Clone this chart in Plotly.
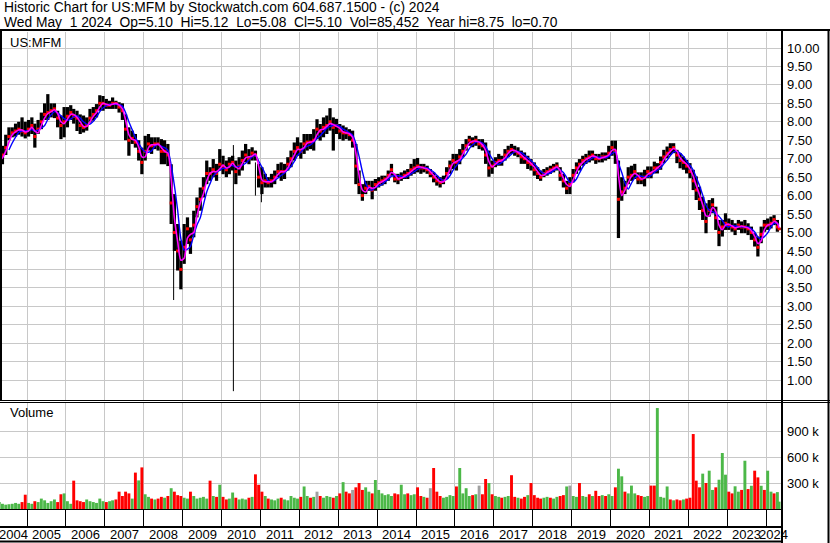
import plotly.graph_objects as go
import pandas as pd

# ---------------- data (monthly, Apr 2004 .. May 2024) ----------------
month_start = "2004-04-01"
n_months = 242

high = [
    7.20, 7.35, 7.65, 7.85, 7.85, 7.95, 8.00, 8.12, 8.00,
    8.05, 8.12, 7.95, 8.05, 8.25, 8.50, 8.75, 8.50, 8.50, 8.30, 8.17, 8.40,
    8.40, 8.45, 8.35, 8.30, 8.20, 8.17, 8.12, 8.35, 8.40, 8.48, 8.72, 8.70,
    8.62, 8.57, 8.66, 8.57, 8.53, 8.50, 8.20, 7.85, 7.76, 7.67, 7.50, 7.30,
    7.62, 7.67, 7.58, 7.58, 7.58, 7.53, 7.50, 7.40, 6.85, 6.04, 5.23, 4.78,
    5.23, 5.41, 5.14, 5.59, 5.95, 6.22, 6.50, 6.95, 6.77, 6.99, 6.86, 7.26,
    7.08, 6.95, 7.04, 7.08, 6.95, 7.04, 7.22, 7.40, 7.26, 7.31, 7.22, 6.86,
    6.77, 6.59, 6.50, 6.59, 6.68, 6.86, 6.90, 6.86, 7.04, 7.22, 7.44, 7.58,
    7.44, 7.67, 7.67, 7.67, 7.80, 8.07, 7.94, 8.12, 8.17, 8.37, 8.12, 8.08,
    7.94, 7.90, 7.85, 7.80, 7.76, 7.40, 6.68, 6.31, 6.40, 6.40, 6.40, 6.45,
    6.50, 6.54, 6.54, 6.68, 6.86, 6.59, 6.59, 6.63, 6.68, 6.72, 6.86, 6.99,
    7.02, 6.86, 6.86, 6.81, 6.72, 6.63, 6.54, 6.50, 6.54, 6.77, 6.95, 7.13,
    7.13, 7.26, 7.40, 7.53, 7.62, 7.58, 7.62, 7.53, 7.53, 7.44, 7.22, 6.95,
    7.04, 7.13, 7.08, 7.26, 7.35, 7.40, 7.35, 7.31, 7.22, 7.17, 7.08, 6.99,
    6.90, 6.77, 6.68, 6.72, 6.77, 6.81, 6.86, 6.90, 6.77, 6.59, 6.40, 6.50,
    6.72, 6.90, 6.99, 7.08, 7.13, 7.22, 7.22, 7.13, 7.13, 7.17, 7.17, 7.35,
    7.49, 7.49, 6.95, 6.50, 6.40, 6.77, 6.81, 6.86, 6.63, 6.63, 6.70, 6.79,
    6.79, 6.92, 6.88, 7.06, 7.24, 7.33, 7.42, 7.42, 7.24, 7.15, 7.06, 6.97,
    6.88, 6.70, 6.52, 6.24, 5.97, 5.79, 5.88, 5.93, 5.70, 5.34, 5.34, 5.52,
    5.38, 5.34, 5.25, 5.34, 5.30, 5.34, 5.25, 5.16, 4.98, 4.89, 5.16, 5.34,
    5.38, 5.43, 5.47, 5.34, 5.12,
]

low = [
    6.75, 6.85, 7.10, 7.50, 7.58, 7.60, 7.65, 7.60, 7.55,
    7.60, 7.67, 7.30, 7.67, 7.80, 8.05, 8.05, 8.12, 8.10, 7.85, 7.53, 7.58,
    7.85, 8.05, 7.95, 7.75, 7.67, 7.71, 7.76, 7.98, 8.03, 8.12, 8.30, 8.30,
    8.35, 8.35, 8.35, 8.35, 8.25, 8.05, 7.50, 7.08, 7.40, 7.30, 6.95, 6.58,
    6.95, 7.22, 7.13, 7.26, 7.22, 6.85, 6.85, 6.80, 5.23, 4.50, 3.97, 3.46,
    4.15, 4.69, 4.42, 4.87, 5.41, 5.59, 5.95, 6.31, 6.40, 6.50, 6.40, 6.68,
    6.58, 6.50, 6.58, 6.68, 6.31, 6.54, 6.68, 6.90, 6.85, 6.95, 6.95, 6.22,
    6.04, 6.22, 6.22, 6.22, 6.31, 6.50, 6.40, 6.45, 6.68, 6.77, 6.95, 7.08,
    7.00, 7.13, 7.22, 7.26, 7.22, 7.53, 7.49, 7.58, 7.67, 7.76, 7.22, 7.67,
    7.53, 7.49, 7.53, 7.49, 7.30, 6.31, 6.04, 5.86, 6.04, 6.13, 5.90, 6.13,
    6.22, 6.27, 6.31, 6.40, 6.54, 6.36, 6.31, 6.40, 6.45, 6.45, 6.54, 6.59,
    6.63, 6.59, 6.63, 6.59, 6.50, 6.36, 6.27, 6.22, 6.31, 6.45, 6.59, 6.72,
    6.68, 6.85, 7.04, 7.22, 7.35, 7.31, 7.35, 7.26, 7.22, 6.86, 6.51, 6.59,
    6.77, 6.81, 6.81, 6.95, 7.04, 7.13, 7.08, 7.04, 6.86, 6.86, 6.72, 6.68,
    6.54, 6.45, 6.40, 6.50, 6.54, 6.59, 6.63, 6.68, 6.40, 6.22, 6.04, 6.04,
    6.36, 6.59, 6.68, 6.81, 6.86, 6.90, 6.95, 6.86, 6.90, 6.90, 6.95, 6.99,
    7.08, 6.86, 4.85, 5.86, 6.04, 6.31, 6.40, 6.45, 6.31, 6.31, 6.25, 6.47,
    6.47, 6.60, 6.60, 6.70, 6.88, 7.01, 7.10, 7.15, 6.88, 6.74, 6.70, 6.60,
    6.47, 6.15, 5.88, 5.61, 5.34, 4.98, 5.43, 5.52, 5.07, 4.63, 4.89, 5.07,
    5.07, 5.02, 4.93, 5.07, 4.98, 4.98, 4.93, 4.80, 4.62, 4.35, 4.71, 5.02,
    5.07, 5.11, 5.20, 5.02, 5.08,
]

close = [
    6.95, 7.10, 7.30, 7.60, 7.70, 7.75, 7.80, 7.75, 7.70,
    7.80, 7.90, 7.60, 7.80, 8.00, 8.20, 8.25, 8.30, 8.35, 8.10, 7.90, 8.00,
    8.15, 8.25, 8.15, 8.10, 7.90, 7.85, 7.90, 8.10, 8.20, 8.30, 8.50, 8.50,
    8.45, 8.45, 8.50, 8.50, 8.40, 8.30, 7.80, 7.50, 7.55, 7.45, 7.20, 6.90,
    7.20, 7.40, 7.35, 7.40, 7.40, 7.20, 7.20, 7.10, 5.80, 5.00, 4.50, 4.00,
    4.60, 5.10, 4.80, 5.20, 5.70, 5.90, 6.20, 6.60, 6.60, 6.70, 6.60, 6.85,
    6.80, 6.70, 6.85, 6.90, 6.65, 6.80, 6.95, 7.10, 7.00, 7.15, 7.10, 6.50,
    6.35, 6.40, 6.35, 6.40, 6.50, 6.65, 6.65, 6.65, 6.85, 7.00, 7.20, 7.30,
    7.20, 7.40, 7.45, 7.45, 7.50, 7.80, 7.75, 7.85, 7.90, 8.00, 7.85, 7.90,
    7.75, 7.70, 7.70, 7.65, 7.50, 6.80, 6.30, 6.00, 6.20, 6.25, 6.15, 6.30,
    6.35, 6.40, 6.45, 6.55, 6.70, 6.45, 6.45, 6.50, 6.55, 6.60, 6.70, 6.75,
    6.80, 6.75, 6.75, 6.70, 6.60, 6.50, 6.40, 6.35, 6.40, 6.60, 6.80, 6.95,
    6.90, 7.05, 7.20, 7.35, 7.50, 7.45, 7.50, 7.40, 7.35, 7.10, 6.75, 6.80,
    6.90, 6.95, 6.95, 7.10, 7.20, 7.25, 7.20, 7.15, 7.05, 7.00, 6.90, 6.85,
    6.70, 6.60, 6.50, 6.60, 6.65, 6.70, 6.75, 6.80, 6.55, 6.40, 6.20, 6.30,
    6.55, 6.75, 6.85, 6.95, 7.00, 7.05, 7.10, 7.00, 7.00, 7.05, 7.05, 7.15,
    7.30, 7.20, 5.90, 6.10, 6.20, 6.50, 6.55, 6.65, 6.45, 6.45, 6.50, 6.65,
    6.60, 6.75, 6.75, 6.90, 7.05, 7.15, 7.25, 7.30, 7.10, 6.95, 6.90, 6.80,
    6.65, 6.40, 6.15, 5.90, 5.60, 5.30, 5.60, 5.75, 5.40, 5.00, 5.15, 5.25,
    5.20, 5.15, 5.10, 5.20, 5.15, 5.15, 5.10, 5.00, 4.80, 4.60, 4.95, 5.20,
    5.20, 5.25, 5.35, 5.15, 5.10,
]

# single-day outlier prints drawn as thin lines
spike_dates = ["2008-10-08", "2010-04-22", "2010-11-15", "2011-01-10"]
spike_low = [3.17, 0.70, 6.00, 5.82]
spike_high = [6.00, 7.37, 6.90, 6.40]

# monthly volume (thousands of shares)
volume_k = [
    80, 60, 50, 55, 60, 70, 60, 80, 165,
    70, 60, 90, 80, 120, 100, 70, 90, 110, 80, 170, 180,
    90, 60, 327, 100, 90, 80, 110, 90, 80, 70, 120, 90,
    80, 90, 100, 110, 200, 150, 200, 180, 120, 420, 330, 480,
    170, 140, 120, 110, 120, 140, 130, 150, 240, 200, 160, 150,
    130, 120, 200, 150, 120, 130, 140, 120, 327, 150, 140, 280,
    140, 110, 120, 190, 130, 110, 120, 110, 130, 140, 400, 280,
    200, 150, 120, 110, 100, 120, 130, 110, 100, 150, 130, 120,
    140, 260, 150, 130, 140, 200, 150, 130, 150, 140, 130, 150,
    180, 310, 200, 180, 220, 250, 300, 220, 250, 200, 180, 335,
    220, 180, 160, 170, 150, 180, 170, 280, 170, 180, 160, 170,
    250, 150, 140, 130, 240, 473, 200, 150, 130, 140, 160, 150,
    260, 473, 180, 240, 150, 160, 170, 270, 170, 346, 300, 170,
    150, 140, 130, 140, 150, 390, 140, 130, 120, 140, 160, 300,
    160, 130, 120, 130, 140, 130, 120, 140, 150, 160, 260, 270,
    150, 140, 300, 150, 140, 170, 150, 210, 150, 160, 150, 170,
    150, 250, 465, 377, 200, 180, 270, 180, 160, 150, 140, 150,
    270, 270, 1165, 140, 130, 260, 110, 100, 110, 100, 110, 120,
    130, 865, 327, 250, 408, 300, 442, 220, 250, 338, 646, 396,
    200, 180, 262, 200, 220, 557, 230, 268, 442, 365, 268, 220,
    442, 200, 180, 195, 85,
]

# direction of each volume bar: u = up (green), d = down (red), n = unchanged (grey)
volume_dir = (
    "uuuuuuudd"
    "uuduuuuuuddu" "uudddduuuuuu" "duudddddudud" "uududdududdd"
    "uuduuuuududu" "dduuduuududd" "duduuuduuuuu" "duudunduuudu"
    "duddnddduudu" "uuuuudduuduu" "ddudnddduuuu" "duuuudunddud"
    "uuduudduddud" "ddduuduuddun" "uuduududdudu" "uduuduuudduu"
    "dduuuududdud" "dddduduuduuu" "dduudududdud"
    "uuduu"
)

price_ticks = [1.0, 1.5, 2.0, 2.5, 3.0, 3.5, 4.0, 4.5, 5.0, 5.5, 6.0, 6.5,
               7.0, 7.5, 8.0, 8.5, 9.0, 9.5, 10.0]
volume_ticks = [300000, 600000, 900000]
volume_tick_text = ["300 k", "600 k", "900 k"]
years = list(range(2004, 2025))

x_start, x_end = "2004-04-22", "2024-05-19"

# ---------------- derived ----------------
mstart = pd.date_range(month_start, periods=n_months, freq="MS")
dates = list(mstart + pd.Timedelta(days=14))
dates[-1] = pd.Timestamp("2024-05-01")
s_close = pd.Series(close)
ma_fast = s_close.rolling(2, min_periods=1).mean()
ma_slow = s_close.rolling(4).mean()
dir_color = {"u": "#4cb848", "d": "#ff0000", "n": "#a0a0a0"}
vol_colors = [dir_color[c] for c in volume_dir]
volume = [v * 1000 for v in volume_k]
span = [h - l for h, l in zip(high, low)]
month_ms = 30.4 * 24 * 3600 * 1000

FONT = "Arial, 'Liberation Sans', sans-serif"

fig = go.Figure()

# price bars (monthly high-low range)
fig.add_trace(go.Bar(x=dates, y=span, base=low, width=month_ms,
                     marker=dict(color="black", line=dict(width=0)),
                     xaxis="x2", yaxis="y", hoverinfo="skip"))
# outlier prints
sx, sy = [], []
for d, lo, hi in zip(spike_dates, spike_low, spike_high):
    sx += [d, d, None]
    sy += [lo, hi, None]
fig.add_trace(go.Scatter(x=sx, y=sy, mode="lines", line=dict(color="black", width=1),
                         xaxis="x2", yaxis="y", hoverinfo="skip"))
# close ticks
fig.add_trace(go.Scatter(x=dates, y=close, mode="markers",
                         marker=dict(color="#ff0000", size=3, symbol="square"),
                         xaxis="x2", yaxis="y", hoverinfo="skip"))
# moving averages
fig.add_trace(go.Scatter(x=dates, y=ma_slow, mode="lines",
                         line=dict(color="#0000ff", width=1.4, shape="spline", smoothing=0.7),
                         xaxis="x2", yaxis="y"))
fig.add_trace(go.Scatter(x=dates, y=ma_fast, mode="lines",
                         line=dict(color="#ff00ff", width=1.6, shape="spline", smoothing=0.7),
                         xaxis="x2", yaxis="y"))
# volume
fig.add_trace(go.Bar(x=dates, y=volume, width=month_ms * 0.9,
                     marker=dict(color=vol_colors, line=dict(width=0)),
                     xaxis="x", yaxis="y2", hoverinfo="skip"))

W, H = 830, 543
PW = 781


def px(x):
    return x / PW


def py(y):
    return 1 - y / H


year_starts = [f"{y}-01-01" for y in years[1:]]

fig.update_layout(
    width=W, height=H,
    margin=dict(l=0, r=W - PW, t=0, b=0, autoexpand=False),
    paper_bgcolor="white", plot_bgcolor="white",
    showlegend=False, barmode="overlay",
    font=dict(family=FONT, size=12, color="black"),
    xaxis=dict(type="date", range=[x_start, x_end], domain=[0, 1], anchor="y2",
               tickmode="array", tickvals=year_starts, showticklabels=False,
               ticks="outside", ticklen=17, tickcolor="black", tickwidth=1,
               showgrid=True, gridcolor="#c8c8c8", gridwidth=1,
               showline=False, zeroline=False, fixedrange=True),
    xaxis2=dict(type="date", range=[x_start, x_end], domain=[0, 1], anchor="y",
                matches="x", tickmode="array", tickvals=year_starts,
                showticklabels=False, ticks="", showgrid=True,
                gridcolor="#c8c8c8", gridwidth=1, showline=False, zeroline=False),
    yaxis=dict(domain=[py(400), py(32)], range=[10 - (400 - 48) / 36.9, 10 + (48 - 32) / 36.9],
               side="right", tickmode="array", tickvals=price_ticks,
               ticktext=[f"{v:.2f}" for v in price_ticks], ticks="",
               showgrid=True, gridcolor="#c8c8c8", gridwidth=1, zeroline=False,
               showline=False, tickfont=dict(size=13), ticklabelstandoff=5),
    yaxis2=dict(domain=[py(509), py(402)], range=[0, 107 / 26 * 300000],
                side="right", tickmode="array", tickvals=volume_ticks,
                ticktext=volume_tick_text, ticks="",
                showgrid=True, gridcolor="#c8c8c8", gridwidth=1, zeroline=False,
                showline=False, tickfont=dict(size=13), ticklabelstandoff=5),
)


def hline(y, x0, x1, w=1):
    return dict(type="line", xref="paper", yref="paper", x0=px(x0), x1=px(x1),
                y0=py(y), y1=py(y), line=dict(color="black", width=w), layer="above")


def vline(x, y0, y1, w=1):
    return dict(type="line", xref="paper", yref="paper", x0=px(x), x1=px(x),
                y0=py(y0), y1=py(y1), line=dict(color="black", width=w), layer="above")


shapes = [
    hline(30, 0, 830, 2),
    vline(1, 30, 401, 2),
    hline(400.5, 0, 830, 1),
    hline(402.5, 0, 830, 1),
    hline(509.5, 0, 782, 1),
    hline(527, 0, 782, 2),
    hline(541.5, 0, 782, 2),
    vline(782, 30, 543, 2),
    vline(828.5, 30, 543, 2),
]
fig.update_layout(shapes=shapes)

nb = "\u00a0"
line1 = "Historic Chart for US:MFM by Stockwatch.com 604.687.1500 - (c) 2024"
line2 = ("Wed May  1 2024  Op=5.10  Hi=5.12  Lo=5.08  Cl=5.10  Vol=85,452  "
         "Year hi=8.75  lo=0.70").replace("  ", " " + nb)
ann = [
    dict(text=line1, x=px(2), y=py(8), font=dict(size=13.8, family=FONT)),
    dict(text=line2, x=px(2), y=py(22), font=dict(size=13.8, family=FONT)),
    dict(text="US:MFM", x=px(8), y=py(42), font=dict(size=13, family=FONT)),
    dict(text="Volume", x=px(8), y=py(413), font=dict(size=13, family=FONT)),
]
for a in ann:
    a.update(xref="paper", yref="paper", showarrow=False, xanchor="left", yanchor="middle")

x0t, x1t = pd.Timestamp(x_start), pd.Timestamp(x_end)
for y in years:
    a0 = max(pd.Timestamp(f"{y}-01-01"), x0t)
    a1 = min(pd.Timestamp(f"{y + 1}-01-01"), x1t)
    mid = a0 + (a1 - a0) / 2
    ann.append(dict(text=str(y), x=mid, xref="x", y=py(534.5), yref="paper",
                    showarrow=False, xanchor="center", yanchor="middle",
                    font=dict(size=13, family=FONT)))
fig.update_layout(annotations=ann)

fig.write_html("out.html", config={"displayModeBar": False},
               post_script="document.body.style.margin='0';")
